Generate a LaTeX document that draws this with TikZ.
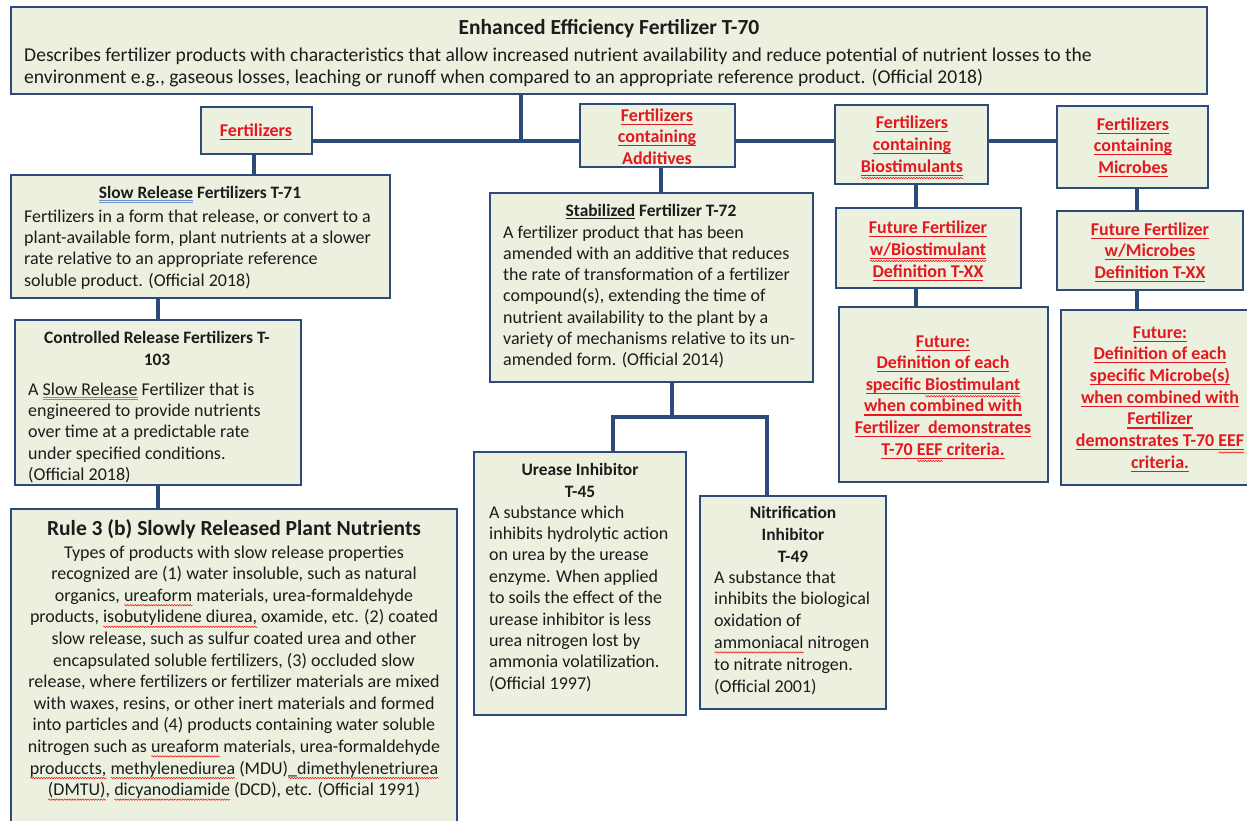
\documentclass[tikz,border=0pt]{standalone}
\usepackage{fontspec}
\setmainfont{Carlito}
\usetikzlibrary{decorations.pathmorphing}
\definecolor{boxfill}{HTML}{EBF1DE}
\definecolor{boxline}{HTML}{2C4A7A}
\definecolor{redtxt}{HTML}{E3191F}
\definecolor{txt}{HTML}{1C1C1C}
\definecolor{sqblue}{HTML}{6F8FD0}
\newsavebox\ulbx
\newcommand\ulrule[3]{\rlap{\color{#1}\vrule width\wd\ulbx height-#2 depth#3}}
\newcommand\wv[1]{\rlap{\tikz[baseline=0pt]\draw[red, line width=0.5pt, decorate, decoration={snake, amplitude=0.7pt, segment length=2.6pt}] (0pt,-#1) -- (\wd\ulbx,-#1);}}
\newcommand\ru[1]{{\color{redtxt}\sbox\ulbx{#1}\ulrule{redtxt}{2.6pt}{3.7pt}\usebox\ulbx}}
\newcommand\bul[1]{{\sbox\ulbx{#1}\ulrule{txt}{2.4pt}{3.4pt}\usebox\ulbx}}
\newcommand\bluu[1]{{\sbox\ulbx{#1}\ulrule{sqblue}{2.3pt}{3.0pt}\ulrule{sqblue}{4.1pt}{4.8pt}\usebox\ulbx}}
\newcommand\sq[1]{{\sbox\ulbx{#1}\wv{4pt}\usebox\ulbx}}
\newcommand\rsq[1]{{\color{redtxt}\sbox\ulbx{#1}\ulrule{redtxt}{2.6pt}{3.7pt}\wv{6pt}\usebox\ulbx}}
\newcommand\mkbox[5]{\node[bx, minimum width={(#4-#2)*1pt}, minimum height={(#5-#3)*1pt}] (#1) at (#2,#3) {};}
\tikzset{
  bx/.style={rectangle, draw=boxline, line width=2.6pt, fill=boxfill, inner sep=0pt, outer sep=0pt, anchor=north west},
  conn/.style={draw=boxline, line width=3.3pt},
  bodyL/.style={inner sep=0pt, align=left, anchor=base west, text=txt, font=\fontsize{18}{21.4}\selectfont},
  bodyC/.style={inner sep=0pt, align=center, anchor=base, text=txt, font=\fontsize{18}{21.6}\selectfont},
  ttl/.style={inner sep=0pt, align=center, anchor=base, text=txt, font=\bfseries\fontsize{17.4}{22}\selectfont},
  rd/.style={inner sep=0pt, align=center, anchor=base, text=redtxt, font=\bfseries\fontsize{18}{21.8}\selectfont}
}
\begin{document}
\begin{tikzpicture}[x=1pt, y=-1pt]
\useasboundingbox (0,0) rectangle (1247,820);
% boxes
\mkbox{top}{11}{7}{1207}{94}
\mkbox{fert}{201}{107}{312}{154}
\mkbox{add}{580}{104}{735}{167}
\mkbox{bio}{835}{105}{988}{184}
\mkbox{mic}{1057}{106}{1208}{188}
\mkbox{sr}{11}{175}{390}{298}
\mkbox{cr}{15}{320}{301}{485}
\mkbox{r3}{11}{509}{457}{840}
\mkbox{stab}{490}{193}{813}{382}
\mkbox{ure}{474}{452}{686}{715}
\mkbox{nit}{700}{496}{886}{709}
\mkbox{wbio}{836}{208}{1021}{288}
\mkbox{bdef}{839}{307}{1048}{482}
\mkbox{wmic}{1057}{211}{1243}{290}
\mkbox{mdef}{1061}{310}{1248}{485}
% connectors
\coordinate (j0) at (521,141);
\draw[conn] (top.south -| j0) -- (j0);
\draw[conn] (fert.east |- j0) -- (add.west |- j0);
\draw[conn] (add.east |- j0) -- (bio.west |- j0);
\draw[conn] (bio.east |- j0) -- (mic.west |- j0);
\coordinate (c0) at (254,0);
\draw[conn] (fert.south -| c0) -- (sr.north -| c0);
\coordinate (c1) at (158,0);
\draw[conn] (sr.south -| c1) -- (cr.north -| c1);
\draw[conn] (cr.south -| c1) -- (r3.north -| c1);
\coordinate (c2) at (661,0);
\draw[conn] (add.south -| c2) -- (stab.north -| c2);
\coordinate (c3) at (672,417);
\coordinate (c4) at (613,417);
\coordinate (c5) at (767,417);
\draw[conn] (stab.south -| c3) -- (c3);
\draw[conn] (ure.north -| c4) -- (c4) -- (c5) -- (nit.north -| c5);
\coordinate (c6) at (916,0);
\draw[conn] (bio.south -| c6) -- (wbio.north -| c6);
\draw[conn] (wbio.south -| c6) -- (bdef.north -| c6);
\coordinate (c7) at (1137,0);
\draw[conn] (mic.south -| c7) -- (wmic.north -| c7);
\draw[conn] (wmic.south -| c7) -- (mdef.north -| c7);
% texts (multi-line nodes are anchored at the baseline of their last line)
\node[ttl, font=\bfseries\fontsize{21.5}{26}\selectfont] (topT) at (609,34) {Enhanced Efficiency Fertilizer T-70};
\node[bodyL, font=\fontsize{19.6}{22}\selectfont] (topB) at (24,83) {Describes fertilizer products with characteristics that allow increased nutrient availability and reduce potential of nutrient losses to the\\environment e.g., gaseous losses, leaching or runoff when compared to an appropriate reference product. (Official 2018)};
\node[rd] (fertT) at (256,136) {\ru{Fertilizers}};
\node[rd, font=\bfseries\fontsize{18}{21.5}\selectfont] (addT) at (657,164) {\ru{Fertilizers}\\\ru{containing}\\\ru{Additives}};
\node[rd, font=\bfseries\fontsize{18}{22}\selectfont] (bioT) at (912,172) {\ru{Fertilizers}\\\ru{containing}\\\rsq{Biostimulants}};
\node[rd, font=\bfseries\fontsize{18}{21.5}\selectfont] (micT) at (1133,173) {\ru{Fertilizers}\\\ru{containing}\\\ru{Microbes}};
\node[ttl] (srT) at (200,198) {\bluu{Slow Release} Fertilizers T-71};
\node[bodyL] (srB) at (24,286.2) {Fertilizers in a form that release, or convert to a\\plant-available form, plant nutrients at a slower\\rate relative to an appropriate reference\\soluble product. (Official 2018)};
\node[ttl] (crT) at (157,365) {Controlled Release Fertilizers T-\\103};
\node[bodyL] (crB) at (28,480.6) {A \bluu{Slow Release} Fertilizer that is\\engineered to provide nutrients\\over time at a predictable rate\\under specified conditions.\\(Official 2018)};
\node[ttl, font=\bfseries\fontsize{21.5}{26}\selectfont] (r3T) at (234,535) {Rule 3 (b) Slowly Released Plant Nutrients};
\node[bodyC] (r3B) at (234,795.6) {Types of products with slow release properties\\recognized are (1) water insoluble, such as natural\\organics, \sq{ureaform} materials, urea-formaldehyde\\products, \sq{isobutylidene diurea,} oxamide, etc. (2) coated\\slow release, such as sulfur coated urea and other\\encapsulated soluble fertilizers, (3) occluded slow\\release, where fertilizers or fertilizer materials are mixed\\with waxes, resins, or other inert materials and formed\\into particles and (4) products containing water soluble\\nitrogen such as \sq{ureaform} materials, urea-formaldehyde\\\sq{produccts,} \sq{methylenediurea} (MDU)\sq{\_dimethylenetriurea}\\\sq{(DMTU)}, \sq{dicyanodiamide} (DCD), etc. (Official 1991)};
\node[ttl] (stabT) at (651,216) {\bul{Stabilized} Fertilizer T-72};
\node[bodyL, font=\fontsize{18}{21.3}\selectfont] (stabB) at (503,365.8) {A fertilizer product that has been\\amended with an additive that reduces\\the rate of transformation of a fertilizer\\compound(s), extending the time of\\nutrient availability to the plant by a\\variety of mechanisms relative to its un-\\amended form. (Official 2014)};
\node[ttl] (ureT) at (580,497) {Urease Inhibitor\\T-45};
\node[bodyL] (ureB) at (489,689.2) {A substance which\\inhibits hydrolytic action\\on urea by the urease\\enzyme. When applied\\to soils the effect of the\\urease inhibitor is less\\urea nitrogen lost by\\ammonia volatilization.\\(Official 1997)};
\node[ttl] (nitT) at (793,562) {Nitrification\\Inhibitor\\T-49};
\node[bodyL, font=\fontsize{18}{21.8}\selectfont] (nitB) at (714,692) {A substance that\\inhibits the biological\\oxidation of\\\sq{ammoniacal} nitrogen\\to nitrate nitrogen.\\(Official 2001)};
\node[rd, font=\bfseries\fontsize{18}{22}\selectfont] (wbioT) at (928,277) {\ru{Future Fertilizer}\\\rsq{w/Biostimulant}\\\ru{Definition T-XX}};
\node[rd, font=\bfseries\fontsize{18}{21.6}\selectfont] (bdefT) at (943,455) {\ru{Future:}\\\ru{Definition of each}\\\ru{specific~}\rsq{Biostimulant}\\\ru{when combined with}\\\ru{Fertilizer~ demonstrates}\\\ru{T-70~}\rsq{EEF}\ru{~criteria.}};
\node[rd, font=\bfseries\fontsize{18}{21.5}\selectfont] (wmicT) at (1150,278) {\ru{Future Fertilizer}\\\ru{w/Microbes}\\\ru{Definition T-XX}};
\node[rd, font=\bfseries\fontsize{18}{21.7}\selectfont] (mdefT) at (1160,468.2) {\ru{Future:}\\\ru{Definition of each}\\\ru{specific Microbe(s)}\\\ru{when combined with}\\\ru{Fertilizer}\\\ru{demonstrates T-70~}\rsq{EEF}\\\ru{criteria.}};
\end{tikzpicture}
\end{document}
